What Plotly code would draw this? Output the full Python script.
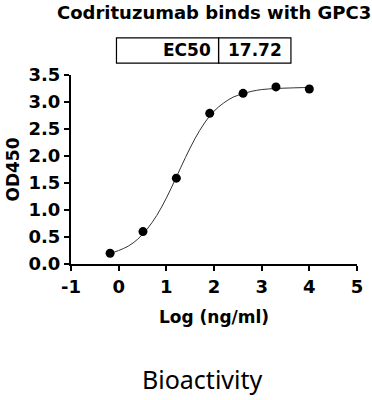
import plotly.graph_objects as go

# Measured points (log concentration, OD450)
log_conc = [-0.18, 0.51, 1.21, 1.91, 2.61, 3.30, 4.00]
od450 = [0.20, 0.60, 1.59, 2.79, 3.16, 3.28, 3.24]

# Fitted curve
curve_x = [-0.2, 0.0, 0.2, 0.4, 0.6, 0.8, 1.0, 1.2, 1.4, 1.6, 1.8, 2.0,
           2.2, 2.4, 2.6, 2.8, 3.0, 3.3, 3.6, 4.0]
curve_y = [0.19, 0.25, 0.33, 0.46, 0.65, 0.90, 1.22, 1.59, 1.97, 2.32, 2.61, 2.83,
           2.98, 3.09, 3.15, 3.20, 3.23, 3.25, 3.26, 3.27]

x_ticks = [-1, 0, 1, 2, 3, 4, 5]
y_ticks = [0.0, 0.5, 1.0, 1.5, 2.0, 2.5, 3.0, 3.5]

title_text = "Codrituzumab binds with GPC3"
ec50_label = "EC50"
ec50_value = "17.72"
x_title = "Log (ng/ml)"
y_title = "OD450"
caption = "Bioactivity"

BOLD = "DejaVu Sans"

fig = go.Figure()
fig.add_trace(go.Scatter(x=curve_x, y=curve_y, mode="lines",
                         line=dict(color="#333333", width=1, shape="spline"),
                         hoverinfo="skip", showlegend=False, cliponaxis=False))
fig.add_trace(go.Scatter(x=log_conc, y=od450, mode="markers",
                         marker=dict(color="black", size=9),
                         showlegend=False, cliponaxis=False))

axis_common = dict(showline=True, linecolor="black", linewidth=2,
                   ticks="outside", ticklen=5, tickwidth=2, tickcolor="black",
                   showgrid=False, zeroline=False, automargin=False,
                   tickfont=dict(family=BOLD, size=18, color="black", weight="bold"))

fig.update_xaxes(range=[-1, 5], tickvals=x_ticks, ticktext=[str(v) for v in x_ticks],
                 title=dict(text=x_title, font=dict(family=BOLD, size=17, color="black", weight="bold"),
                            standoff=16),
                 **axis_common)
fig.update_yaxes(range=[0, 3.5], tickvals=y_ticks, ticktext=[f"{v:.1f}" for v in y_ticks],
                 title=dict(text=y_title, font=dict(family=BOLD, size=17, color="black", weight="bold"),
                            standoff=5),
                 **axis_common)

# table box
for x0, x1 in [(0.159, 0.516), (0.516, 0.769)]:
    fig.add_shape(type="rect", xref="paper", yref="paper", x0=x0, x1=x1, y0=1.063, y1=1.196,
                  line=dict(color="black", width=1.2), fillcolor="rgba(0,0,0,0)")

fig.add_annotation(text=title_text, xref="paper", yref="paper", x=0.499, y=1.33,
                   xanchor="center", yanchor="middle", showarrow=False,
                   font=dict(family=BOLD, size=18, color="black", weight="bold"))
fig.add_annotation(text=ec50_label, xref="paper", yref="paper", x=0.495, y=1.13,
                   xanchor="right", yanchor="middle", showarrow=False,
                   font=dict(family=BOLD, size=17, color="black", weight="bold"))
fig.add_annotation(text=ec50_value, xref="paper", yref="paper", x=0.642, y=1.13,
                   xanchor="center", yanchor="middle", showarrow=False,
                   font=dict(family=BOLD, size=17, color="black", weight="bold"))
fig.add_annotation(text=caption, xref="paper", yref="paper", x=0.4615, y=-0.608,
                   xanchor="center", yanchor="middle", showarrow=False,
                   font=dict(family="Noto Sans", size=25, color="black"))

fig.update_layout(width=372, height=400,
                  margin=dict(l=71, r=15, t=75, b=136),
                  paper_bgcolor="white", plot_bgcolor="white")

fig.write_html("out.html", config={"displayModeBar": False},
               post_script="document.body.style.margin='0';")
